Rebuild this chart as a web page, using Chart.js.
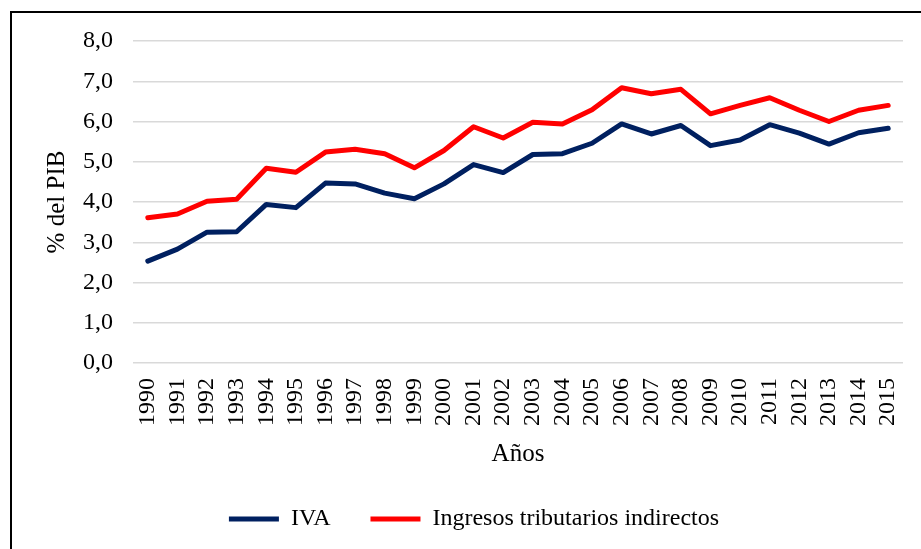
<!DOCTYPE html>
<html>
<head>
<meta charset="utf-8">
<script src="https://cdn.jsdelivr.net/npm/chart.js@4/dist/chart.umd.min.js"></script>
<style>
  html, body { margin: 0; padding: 0; background: #fff; }
  #wrap { position: relative; width: 921px; height: 549px; overflow: hidden; }
  #frame { position: absolute; left: 10px; top: 11px; width: 1000px; height: 600px;
           border-left: 2px solid #000; border-top: 2px solid #000; pointer-events: none; }
  canvas { position: absolute; left: 0; top: 0; }
</style>
</head>
<body>
<div id="wrap">
  <canvas id="chart" width="921" height="549"></canvas>
  <div id="frame"></div>
</div>
<script>
// years on x axis
const years = ['1990','1991','1992','1993','1994','1995','1996','1997','1998','1999','2000',
  '2001','2002','2003','2004','2005','2006','2007','2008','2009','2010','2011','2012','2013','2014','2015'];

// % del PIB
const iva = [2.53, 2.83, 3.25, 3.26, 3.94, 3.86, 4.47, 4.45, 4.22, 4.08, 4.45,
  4.93, 4.73, 5.18, 5.20, 5.46, 5.94, 5.69, 5.90, 5.40, 5.54, 5.92, 5.71, 5.44, 5.72, 5.83];
const indirectos = [3.61, 3.70, 4.02, 4.07, 4.84, 4.74, 5.24, 5.31, 5.20, 4.85, 5.28,
  5.87, 5.59, 5.98, 5.94, 6.29, 6.84, 6.69, 6.80, 6.19, 6.40, 6.59, 6.28, 6.00, 6.28, 6.40];

const yTicks = [0, 1, 2, 3, 4, 5, 6, 7, 8];

const serif = "'Liberation Serif', 'Times New Roman', serif";

new Chart(document.getElementById('chart'), {
  type: 'line',
  data: {
    labels: years,
    datasets: [
      {
        label: 'IVA',
        data: iva,
        borderColor: '#002060',
        backgroundColor: '#002060',
        borderWidth: 5,
        pointRadius: 0,
        pointStyle: 'line',
        tension: 0,
        borderCapStyle: 'round',
        borderJoinStyle: 'round'
      },
      {
        label: 'Ingresos tributarios indirectos',
        data: indirectos,
        borderColor: '#ff0000',
        backgroundColor: '#ff0000',
        borderWidth: 5,
        pointRadius: 0,
        pointStyle: 'line',
        tension: 0,
        borderCapStyle: 'round',
        borderJoinStyle: 'round'
      }
    ]
  },
  options: {
    responsive: false,
    animation: false,
    // left padding pushes the legend right, y axis width below compensates
    layout: { padding: { left: 45, right: 18, top: 41, bottom: 8 } },
    plugins: {
      tooltip: { enabled: false },
      legend: {
        position: 'bottom',
        labels: {
          color: '#000',
          font: { family: serif, size: 24 },
          usePointStyle: true,
          pointStyle: 'line',
          pointStyleWidth: 50,
          padding: 40
        }
      }
    },
    scales: {
      x: {
        offset: true,
        grid: { display: false, drawTicks: false },
        border: { display: false },
        ticks: {
          color: '#000',
          font: { family: serif, size: 24 },
          minRotation: 90,
          maxRotation: 90,
          autoSkip: false,
          padding: 15
        },
        title: {
          display: true,
          text: 'Años',
          color: '#000',
          font: { family: serif, size: 25, lineHeight: 1 },
          padding: { top: 0, bottom: 0.5 }
        },
        afterFit: (scale) => {
          scale.height = 104;
          scale.paddingLeft = 0;
          scale.paddingRight = 0;
        }
      },
      y: {
        min: 0,
        max: 8,
        afterBuildTicks: (scale) => { scale.ticks = yTicks.map(v => ({ value: v })); },
        grid: { color: '#d9d9d9', lineWidth: 1.5, drawTicks: false },
        border: { display: false },
        ticks: {
          color: '#000',
          font: { family: serif, size: 24 },
          padding: 20,
          callback: (v) => v.toFixed(1).replace('.', ',')
        },
        title: {
          display: true,
          text: '% del PIB',
          color: '#000',
          font: { family: serif, size: 25, lineHeight: 0.96 },
          padding: { top: 0, bottom: 0 }
        },
        afterFit: (scale) => { scale.width = 88; }
      }
    }
  }
});
</script>
</body>
</html>
